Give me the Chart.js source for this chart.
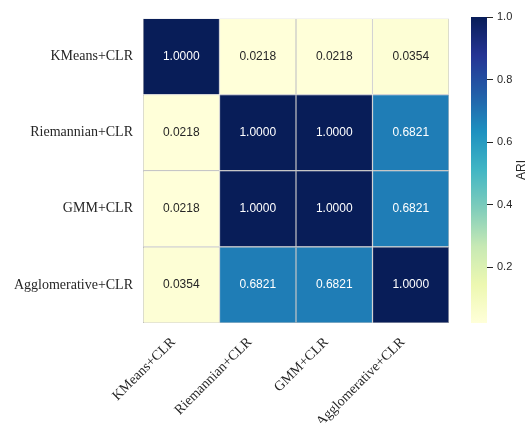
<!DOCTYPE html>
<html>
<head>
<meta charset="utf-8">
<script src="https://cdn.jsdelivr.net/npm/chart.js@4/dist/chart.umd.min.js"></script>
<style>
  html, body { margin: 0; padding: 0; background: #ffffff; }
  #wrap { position: relative; width: 528px; height: 423px; overflow: hidden; }
  #heat { position: absolute; left: 0; top: 0; }
  #cbar { position: absolute; left: 471px; top: 0; }
</style>
</head>
<body>
<div id="wrap">
  <canvas id="heat" width="528" height="423"></canvas>
  <canvas id="cbar" width="57" height="423"></canvas>
</div>
<script>
// Clustering methods compared (rows and columns of the matrix)
const methods = ['KMeans+CLR', 'Riemannian+CLR', 'GMM+CLR', 'Agglomerative+CLR'];

// Pairwise Adjusted Rand Index, one row per method
const ariKMeans        = [1.0000, 0.0218, 0.0218, 0.0354];
const ariRiemannian    = [0.0218, 1.0000, 1.0000, 0.6821];
const ariGMM           = [0.0218, 1.0000, 1.0000, 0.6821];
const ariAgglomerative = [0.0354, 0.6821, 0.6821, 1.0000];
const ariRows = [ariKMeans, ariRiemannian, ariGMM, ariAgglomerative];

// Colour bar tick labels
const colorbarTicks = [0.2, 0.4, 0.6, 0.8, 1.0];

// Colour range spans the data
const vmin = Math.min(...ariRows.flat());
const vmax = Math.max(...ariRows.flat());

// YlGnBu palette stops
const ylGnBu = ['#ffffd9', '#edf8b1', '#c7e9b4', '#7fcdbb', '#41b6c4',
                '#1d91c0', '#225ea8', '#253494', '#081d58'];

function hexToRgb(h) {
  return [parseInt(h.slice(1, 3), 16), parseInt(h.slice(3, 5), 16), parseInt(h.slice(5, 7), 16)];
}
function colormap(t) {
  t = Math.max(0, Math.min(1, t));
  const pos = t * (ylGnBu.length - 1);
  const i = Math.min(Math.floor(pos), ylGnBu.length - 2);
  const f = pos - i;
  const a = hexToRgb(ylGnBu[i]), b = hexToRgb(ylGnBu[i + 1]);
  const c = a.map((v, k) => Math.round(v + (b[k] - v) * f));
  return `rgb(${c[0]},${c[1]},${c[2]})`;
}
const norm = v => (vmax - vmin) ? (v - vmin) / (vmax - vmin) : 0;

const serif = '"Liberation Serif", "Times New Roman", serif';
const sans = '"Liberation Sans", Arial, sans-serif';
const textColor = '#262626';

// Writes each cell's value at its centre
const cellLabels = {
  id: 'cellLabels',
  afterDatasetsDraw(chart) {
    const ctx = chart.ctx;
    ctx.save();
    ctx.font = `12px ${sans}`;
    ctx.textAlign = 'center';
    ctx.textBaseline = 'middle';
    chart.data.datasets.forEach((ds, di) => {
      const meta = chart.getDatasetMeta(di);
      meta.data.forEach((el, ci) => {
        const v = ds.ari[ci];
        const p = el.getCenterPoint();
        ctx.fillStyle = norm(v) > 0.5 ? '#ffffff' : textColor;
        ctx.fillText(v.toFixed(4), p.x, p.y);
      });
    });
    ctx.restore();
  }
};

// One floating-bar dataset per row; each bar fills one cell
const heatDatasets = ariRows.map((row, r) => ({
  label: methods[r],
  ari: row,
  data: row.map(() => [r, r + 1]),
  backgroundColor: row.map(v => colormap(norm(v))),
  borderColor: 'rgba(128,128,128,0.75)',
  borderWidth: 0.6,
  borderSkipped: false,
  inflateAmount: 0,
  grouped: false,
  barPercentage: 1,
  categoryPercentage: 1
}));

new Chart(document.getElementById('heat'), {
  type: 'bar',
  data: { labels: methods, datasets: heatDatasets },
  options: {
    responsive: false,
    animation: false,
    devicePixelRatio: 1,
    layout: { padding: { top: 17, right: 79, bottom: 0, left: 0 } },
    plugins: { legend: { display: false }, tooltip: { enabled: false } },
    scales: {
      x: {
        type: 'category',
        grid: { display: false, drawTicks: false },
        border: { display: false },
        ticks: {
          minRotation: 45, maxRotation: 45, autoSkip: false,
          padding: 11, labelOffset: -8,
          color: textColor, font: { family: serif, size: 14 }
        },
        afterFit(scale) { scale.height = 100; }
      },
      y: {
        type: 'linear', min: 0, max: methods.length, reverse: true,
        grid: { display: false, drawTicks: false },
        border: { display: false },
        afterBuildTicks(scale) {
          scale.ticks = methods.map((m, i) => ({ value: i + 0.5 }));
        },
        ticks: {
          autoSkip: false, padding: 10,
          color: textColor, font: { family: serif, size: 14 },
          callback: v => methods[Math.floor(v)]
        },
        afterFit(scale) { scale.width = 143; }
      }
    }
  },
  plugins: [cellLabels]
});

// Colour bar: a single floating bar from vmin to vmax filled with the palette
const cbarTitle = {
  id: 'cbarTitle',
  afterDraw(chart) {
    const ctx = chart.ctx;
    const area = chart.chartArea;
    ctx.save();
    ctx.translate(chart.width - 6, (area.top + area.bottom) / 2);
    ctx.rotate(-Math.PI / 2);
    ctx.font = `12px ${sans}`;
    ctx.fillStyle = textColor;
    ctx.textAlign = 'center';
    ctx.textBaseline = 'middle';
    ctx.fillText('ARI', 0, 0);
    ctx.restore();
  }
};

new Chart(document.getElementById('cbar'), {
  type: 'bar',
  data: {
    labels: ['ARI'],
    datasets: [{
      data: [[vmin, vmax]],
      backgroundColor(c) {
        const area = c.chart.chartArea;
        if (!area) return ylGnBu[4];
        const g = c.chart.ctx.createLinearGradient(0, area.bottom, 0, area.top);
        ylGnBu.forEach((col, i) => g.addColorStop(i / (ylGnBu.length - 1), col));
        return g;
      },
      borderWidth: 0,
      inflateAmount: 0,
      barPercentage: 1,
      categoryPercentage: 1
    }]
  },
  options: {
    responsive: false,
    animation: false,
    devicePixelRatio: 1,
    layout: { padding: { top: 17, right: 0, bottom: 100, left: 0 } },
    plugins: { legend: { display: false }, tooltip: { enabled: false } },
    scales: {
      x: { display: false },
      y: {
        type: 'linear', position: 'right', min: vmin, max: vmax,
        afterBuildTicks(scale) {
          scale.ticks = colorbarTicks.map(v => ({ value: v }));
        },
        grid: { drawOnChartArea: false, drawTicks: true, tickLength: 6, tickColor: textColor, tickWidth: 1 },
        border: { display: false },
        ticks: {
          padding: 4, color: textColor, font: { family: sans, size: 11 },
          callback: v => v.toFixed(1)
        },
        afterFit(scale) { scale.width = 41; }
      }
    }
  },
  plugins: [cbarTitle]
});
</script>
</body>
</html>
